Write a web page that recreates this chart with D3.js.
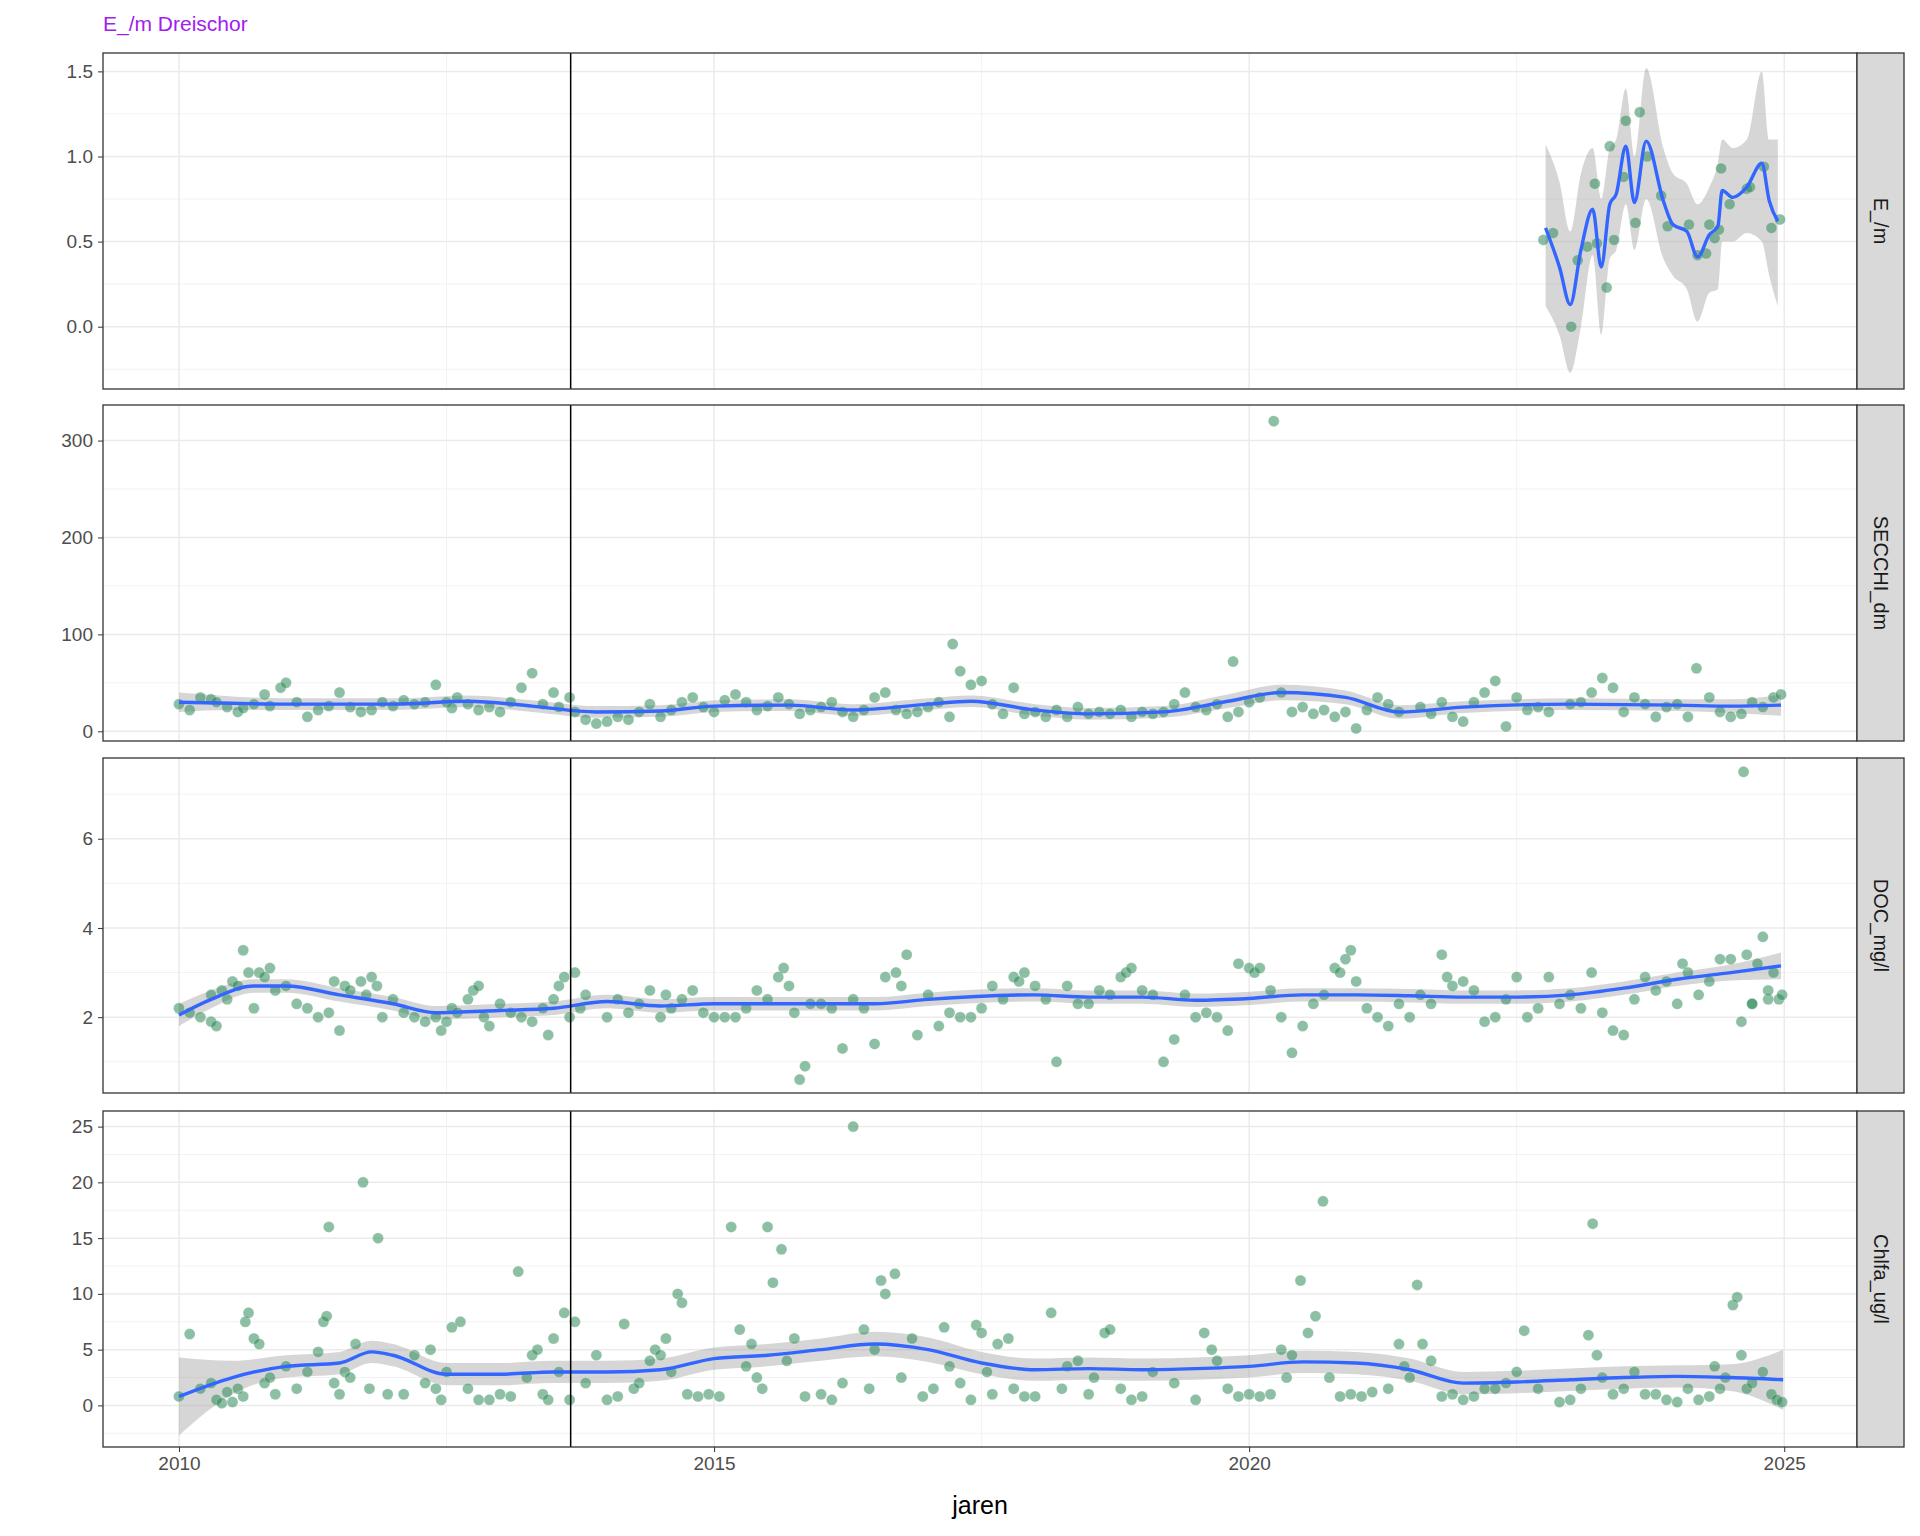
<!DOCTYPE html>
<html><head><meta charset="utf-8">
<script src="https://cdn.jsdelivr.net/npm/d3@7"></script>
<style>body{margin:0;background:#fff}text{font-family:Arial,"Liberation Sans",sans-serif}</style>
</head><body><svg id="c" width="1920" height="1536"></svg>
<script>
const titleText = "E_/m Dreischor";
const panelNames = ["E_/m","SECCHI_dm","DOC_mg/l","Chlfa_ug/l"];
const xTicks = [2010,2015,2020,2025];
const yTicksE = [0,0.5,1.0,1.5];
const yTicksS = [0,100,200,300];
const yTicksD = [2,4,6];
const yTicksC = [0,5,10,15,20,25];
const refYear = 2013.66;

const ptsE = [[2022.75,0.51],[2022.84,0.55],[2023.01,0.0],[2023.07,0.39],[2023.16,0.47],[2023.23,0.84],[2023.25,0.49],[2023.34,0.23],[2023.37,1.06],[2023.41,0.51],[2023.50,0.88],[2023.52,1.21],[2023.61,0.61],[2023.65,1.26],[2023.72,1.0],[2023.85,0.77],[2023.91,0.59],[2024.11,0.60],[2024.19,0.42],[2024.27,0.43],[2024.30,0.60],[2024.35,0.52],[2024.39,0.57],[2024.41,0.93],[2024.49,0.72],[2024.65,0.81],[2024.68,0.82],[2024.81,0.94],[2024.88,0.58],[2024.96,0.63]];
const fitE = [[2022.77,0.58,1.07,0.12],[2022.9,0.35,0.85,-0.05],[2023.0,0.13,0.56,-0.27],[2023.1,0.45,0.9,0.0],[2023.21,0.69,1.05,0.42],[2023.29,0.35,0.75,-0.05],[2023.37,0.72,1.05,0.4],[2023.43,0.78,1.1,0.45],[2023.52,1.06,1.4,0.72],[2023.60,0.73,1.0,0.45],[2023.71,1.09,1.52,0.75],[2023.87,0.74,1.05,0.4],[2023.96,0.60,0.9,0.3],[2024.09,0.56,0.84,0.22],[2024.19,0.41,0.72,0.03],[2024.30,0.54,0.82,0.2],[2024.38,0.59,0.96,0.22],[2024.42,0.80,1.1,0.5],[2024.52,0.76,1.05,0.5],[2024.65,0.82,1.1,0.55],[2024.79,0.96,1.5,0.5],[2024.86,0.74,1.1,0.3],[2024.94,0.62,1.1,0.12]];

const ptsS = [[2010.0,28],[2010.1,22],[2010.2,35],[2010.3,33],[2010.35,30],[2010.45,25],[2010.55,20],[2010.6,24],[2010.7,28],[2010.8,38],[2010.85,26],[2010.95,45],[2011.0,50],[2011.1,30],[2011.2,15],[2011.3,22],[2011.4,26],[2011.5,40],[2011.6,25],[2011.7,20],[2011.8,22],[2011.9,30],[2012.0,26],[2012.1,32],[2012.2,28],[2012.3,30],[2012.4,48],[2012.5,30],[2012.55,24],[2012.6,35],[2012.7,28],[2012.8,22],[2012.9,25],[2013.0,20],[2013.1,30],[2013.2,45],[2013.3,60],[2013.4,28],[2013.5,40],[2013.55,25],[2013.65,35],[2013.7,20],[2013.8,12],[2013.9,8],[2014.0,10],[2014.1,15],[2014.2,12],[2014.3,20],[2014.4,28],[2014.5,15],[2014.6,22],[2014.7,30],[2014.8,35],[2014.9,25],[2015.0,20],[2015.1,32],[2015.2,38],[2015.3,30],[2015.4,22],[2015.5,26],[2015.6,35],[2015.7,28],[2015.8,18],[2015.9,22],[2016.0,25],[2016.1,30],[2016.2,20],[2016.3,15],[2016.4,22],[2016.5,35],[2016.6,40],[2016.7,22],[2016.8,18],[2016.9,20],[2017.0,25],[2017.1,30],[2017.2,15],[2017.3,62],[2017.4,48],[2017.5,52],[2017.6,28],[2017.7,18],[2017.23,90],[2017.8,45],[2017.9,18],[2018.0,20],[2018.1,15],[2018.2,22],[2018.3,15],[2018.4,25],[2018.5,18],[2018.6,20],[2018.7,18],[2018.8,22],[2018.9,15],[2019.0,20],[2019.1,18],[2019.2,20],[2019.3,28],[2019.4,40],[2019.5,25],[2019.6,22],[2019.7,28],[2019.8,15],[2019.85,72],[2019.9,20],[2020.0,30],[2020.1,35],[2020.23,320],[2020.3,40],[2020.4,20],[2020.5,25],[2020.6,18],[2020.7,22],[2020.8,15],[2020.9,20],[2021.0,3],[2021.1,22],[2021.2,35],[2021.3,28],[2021.4,20],[2021.6,25],[2021.7,18],[2021.8,30],[2021.9,15],[2022.0,10],[2022.1,30],[2022.2,40],[2022.3,52],[2022.4,5],[2022.5,35],[2022.6,22],[2022.7,25],[2022.8,20],[2023.0,28],[2023.1,30],[2023.2,40],[2023.3,55],[2023.4,45],[2023.5,20],[2023.6,35],[2023.7,28],[2023.8,15],[2023.9,25],[2024.0,28],[2024.1,15],[2024.18,65],[2024.3,35],[2024.4,20],[2024.5,15],[2024.6,18],[2024.7,30],[2024.8,25],[2024.9,35],[2024.97,38]];
const fitS = [[2010,30,40,20],[2010.5,29,36,22],[2011,28,34,22],[2012,28,34,22],[2012.7,31,37,25],[2013.3,26,32,20],[2013.9,20,26,14],[2014.5,21,27,15],[2015,26,32,20],[2015.7,27,33,21],[2016.3,22,28,16],[2017,28,34,22],[2017.4,31,37,25],[2018,22,28,16],[2018.5,18,24,12],[2019.2,20,26,14],[2019.8,31,38,24],[2020.3,40,48,32],[2020.9,35,42,28],[2021.4,20,27,13],[2022,25,31,19],[2023,28,34,22],[2024,27,33,21],[2024.5,26,33,19],[2024.97,27,38,16]];

const ptsD = [[2010.0,2.2],[2010.1,2.1],[2010.2,2.0],[2010.3,1.9],[2010.35,1.8],[2010.3,2.5],[2010.4,2.6],[2010.45,2.4],[2010.5,2.8],[2010.55,2.7],[2010.6,3.5],[2010.65,3.0],[2010.7,2.2],[2010.75,3.0],[2010.8,2.9],[2010.85,3.1],[2010.9,2.6],[2011.0,2.7],[2011.1,2.3],[2011.2,2.2],[2011.3,2.0],[2011.4,2.1],[2011.45,2.8],[2011.5,1.7],[2011.55,2.7],[2011.6,2.6],[2011.7,2.8],[2011.75,2.5],[2011.8,2.9],[2011.85,2.7],[2011.9,2.0],[2012.0,2.4],[2012.1,2.1],[2012.2,2.0],[2012.3,1.9],[2012.4,2.0],[2012.45,1.7],[2012.5,1.9],[2012.55,2.2],[2012.6,2.1],[2012.7,2.4],[2012.75,2.6],[2012.8,2.7],[2012.85,2.0],[2012.9,1.8],[2013.0,2.3],[2013.1,2.1],[2013.2,2.0],[2013.3,1.9],[2013.4,2.2],[2013.45,1.6],[2013.5,2.4],[2013.55,2.7],[2013.6,2.9],[2013.65,2.0],[2013.7,3.0],[2013.75,2.2],[2013.8,2.5],[2014.0,2.0],[2014.1,2.4],[2014.2,2.1],[2014.3,2.3],[2014.4,2.6],[2014.5,2.0],[2014.55,2.5],[2014.6,2.2],[2014.7,2.4],[2014.8,2.6],[2014.9,2.1],[2015.0,2.0],[2015.1,2.0],[2015.2,2.0],[2015.3,2.2],[2015.4,2.6],[2015.5,2.4],[2015.6,2.9],[2015.65,3.1],[2015.7,2.7],[2015.75,2.1],[2015.8,0.6],[2015.85,0.9],[2015.9,2.3],[2016.0,2.3],[2016.1,2.2],[2016.2,1.3],[2016.3,2.4],[2016.4,2.2],[2016.5,1.4],[2016.6,2.9],[2016.7,3.0],[2016.75,2.7],[2016.8,3.4],[2016.9,1.6],[2017.0,2.5],[2017.1,1.8],[2017.2,2.1],[2017.3,2.0],[2017.4,2.0],[2017.5,2.2],[2017.6,2.7],[2017.7,2.4],[2017.8,2.9],[2017.85,2.8],[2017.9,3.0],[2018.0,2.7],[2018.1,2.4],[2018.2,1.0],[2018.3,2.7],[2018.4,2.3],[2018.5,2.3],[2018.6,2.6],[2018.7,2.5],[2018.8,2.9],[2018.85,3.0],[2018.9,3.1],[2019.0,2.6],[2019.1,2.5],[2019.2,1.0],[2019.3,1.5],[2019.4,2.5],[2019.5,2.0],[2019.6,2.1],[2019.7,2.0],[2019.8,1.7],[2019.9,3.2],[2020.0,3.1],[2020.05,3.0],[2020.1,3.1],[2020.2,2.6],[2020.3,2.0],[2020.4,1.2],[2020.5,1.8],[2020.6,2.3],[2020.7,2.5],[2020.8,3.1],[2020.85,3.0],[2020.9,3.3],[2020.95,3.5],[2021.0,2.8],[2021.1,2.2],[2021.2,2.0],[2021.3,1.8],[2021.4,2.3],[2021.5,2.0],[2021.6,2.5],[2021.7,2.3],[2021.8,3.4],[2021.85,2.9],[2021.9,2.7],[2022.0,2.8],[2022.1,2.6],[2022.2,1.9],[2022.3,2.0],[2022.4,2.4],[2022.5,2.9],[2022.6,2.0],[2022.7,2.2],[2022.8,2.9],[2022.9,2.3],[2023.0,2.5],[2023.1,2.2],[2023.2,3.0],[2023.3,2.1],[2023.4,1.7],[2023.5,1.6],[2023.6,2.4],[2023.7,2.9],[2023.8,2.6],[2023.9,2.8],[2024.0,2.3],[2024.05,3.2],[2024.1,3.0],[2024.2,2.5],[2024.3,2.8],[2024.4,3.3],[2024.5,3.3],[2024.6,1.9],[2024.7,2.3],[2024.8,3.8],[2024.85,2.4],[2024.9,3.0],[2024.62,7.5],[2024.65,3.4],[2024.7,2.3],[2024.75,3.2],[2024.85,2.6],[2024.95,2.4],[2024.98,2.5]];
const fitD = [[2010,2.05,2.3,1.8],[2010.3,2.4,2.6,2.2],[2010.7,2.7,2.85,2.55],[2011,2.7,2.85,2.55],[2011.5,2.5,2.65,2.35],[2012,2.3,2.45,2.15],[2012.4,2.1,2.25,1.95],[2013,2.15,2.3,2.0],[2013.5,2.2,2.35,2.05],[2014,2.35,2.5,2.2],[2014.5,2.25,2.4,2.1],[2015,2.3,2.45,2.15],[2016,2.3,2.45,2.15],[2016.5,2.3,2.45,2.15],[2017,2.4,2.55,2.25],[2018,2.5,2.65,2.35],[2018.5,2.45,2.6,2.3],[2019,2.45,2.6,2.3],[2019.5,2.38,2.53,2.23],[2020,2.42,2.57,2.27],[2020.5,2.5,2.65,2.35],[2021,2.5,2.65,2.35],[2021.5,2.48,2.63,2.33],[2022,2.45,2.6,2.3],[2022.5,2.45,2.6,2.3],[2023,2.5,2.65,2.35],[2023.5,2.65,2.8,2.5],[2024,2.85,3.0,2.7],[2024.5,3.0,3.18,2.82],[2024.97,3.15,3.45,2.85]];

const ptsC = [[2010.0,0.8],[2010.1,6.4],[2010.2,1.5],[2010.3,2.0],[2010.35,0.5],[2010.4,0.2],[2010.45,1.2],[2010.5,0.3],[2010.55,1.5],[2010.6,0.8],[2010.62,7.5],[2010.65,8.3],[2010.7,6.0],[2010.75,5.5],[2010.8,2.0],[2010.85,2.5],[2010.9,1.0],[2011.0,3.5],[2011.1,1.5],[2011.2,3.0],[2011.3,4.8],[2011.35,7.5],[2011.38,8.0],[2011.4,16.0],[2011.45,2.0],[2011.5,1.0],[2011.55,3.0],[2011.6,2.5],[2011.65,5.5],[2011.72,20.0],[2011.78,1.5],[2011.86,15.0],[2011.95,1.0],[2012.1,1.0],[2012.2,4.5],[2012.3,2.0],[2012.35,5.0],[2012.4,1.5],[2012.45,0.5],[2012.5,3.0],[2012.55,7.0],[2012.63,7.5],[2012.7,1.5],[2012.8,0.5],[2012.9,0.5],[2013.0,1.0],[2013.1,0.8],[2013.17,12.0],[2013.25,2.5],[2013.3,4.5],[2013.35,5.0],[2013.4,1.0],[2013.45,0.5],[2013.5,6.0],[2013.55,3.0],[2013.6,8.3],[2013.65,0.5],[2013.7,7.5],[2013.8,2.0],[2013.9,4.5],[2014.0,0.5],[2014.1,0.8],[2014.16,7.3],[2014.25,1.5],[2014.3,2.0],[2014.4,4.0],[2014.45,5.0],[2014.5,4.5],[2014.55,6.0],[2014.6,3.0],[2014.66,10.0],[2014.7,9.2],[2014.75,1.0],[2014.85,0.8],[2014.95,1.0],[2015.05,0.8],[2015.16,16.0],[2015.24,6.8],[2015.3,3.5],[2015.35,5.5],[2015.4,2.5],[2015.45,1.5],[2015.5,16.0],[2015.55,11.0],[2015.63,14.0],[2015.68,4.0],[2015.75,6.0],[2015.85,0.8],[2016.0,1.0],[2016.1,0.5],[2016.2,2.0],[2016.3,25.0],[2016.4,6.8],[2016.45,1.5],[2016.5,5.0],[2016.56,11.2],[2016.6,10.0],[2016.69,11.8],[2016.75,2.5],[2016.85,6.0],[2016.95,0.8],[2017.05,1.5],[2017.15,7.0],[2017.2,3.5],[2017.3,2.0],[2017.4,0.5],[2017.45,7.2],[2017.5,6.5],[2017.55,3.0],[2017.6,1.0],[2017.65,5.5],[2017.75,6.0],[2017.8,1.5],[2017.9,0.8],[2018.0,0.8],[2018.15,8.3],[2018.25,1.5],[2018.3,3.5],[2018.4,4.0],[2018.5,1.0],[2018.55,2.5],[2018.65,6.5],[2018.7,6.8],[2018.8,1.5],[2018.9,0.5],[2019.0,0.8],[2019.1,3.0],[2019.3,2.0],[2019.5,0.5],[2019.58,6.5],[2019.65,5.0],[2019.7,4.0],[2019.8,1.5],[2019.9,0.8],[2020.0,1.0],[2020.1,0.8],[2020.2,1.0],[2020.3,5.0],[2020.35,2.5],[2020.4,4.5],[2020.48,11.2],[2020.55,6.5],[2020.62,8.0],[2020.69,18.3],[2020.75,2.5],[2020.85,0.8],[2020.95,1.0],[2021.05,0.8],[2021.15,1.2],[2021.3,1.5],[2021.4,5.5],[2021.45,3.5],[2021.5,2.5],[2021.57,10.8],[2021.62,5.5],[2021.7,4.0],[2021.8,0.8],[2021.9,1.0],[2022.0,0.5],[2022.1,0.8],[2022.2,1.5],[2022.3,1.5],[2022.4,2.0],[2022.5,3.0],[2022.57,6.7],[2022.7,1.5],[2022.9,0.3],[2023.0,0.5],[2023.1,1.5],[2023.17,6.3],[2023.21,16.3],[2023.25,4.5],[2023.3,2.5],[2023.4,1.0],[2023.5,1.5],[2023.6,3.0],[2023.7,1.0],[2023.8,1.0],[2023.9,0.5],[2024.0,0.3],[2024.1,1.5],[2024.2,0.5],[2024.3,0.8],[2024.35,3.5],[2024.4,1.5],[2024.45,2.5],[2024.52,9.0],[2024.56,9.7],[2024.6,4.5],[2024.65,1.5],[2024.7,2.0],[2024.8,3.0],[2024.88,1.0],[2024.93,0.5],[2024.98,0.3]];
const fitC = [[2010,0.8,4.3,-2.7],[2010.5,2.5,4.0,1.0],[2011,3.5,4.5,2.5],[2011.5,3.8,4.8,2.8],[2011.8,4.8,5.8,3.8],[2012,4.5,5.5,3.5],[2012.5,2.8,3.8,1.8],[2013,2.8,3.8,1.8],[2013.5,3.0,4.0,2.0],[2014,3.0,4.0,2.0],[2014.5,3.2,4.2,2.2],[2015,4.2,5.2,3.2],[2015.5,4.5,5.5,3.5],[2016,5.0,6.0,4.0],[2016.5,5.5,6.6,4.4],[2017,5.0,6.1,3.9],[2017.5,3.8,4.8,2.8],[2018,3.2,4.2,2.2],[2018.5,3.3,4.3,2.3],[2019,3.2,4.2,2.2],[2019.5,3.3,4.3,2.3],[2020,3.5,4.5,2.5],[2020.5,3.9,4.9,2.9],[2021,3.8,4.8,2.8],[2021.5,3.2,4.2,2.2],[2022,2.0,3.0,1.0],[2022.5,2.1,3.1,1.1],[2023,2.3,3.3,1.3],[2023.5,2.5,3.5,1.5],[2024,2.6,3.6,1.6],[2024.5,2.5,3.7,1.3],[2024.99,2.3,5.0,-0.4]];

const panels = [
 {name:panelNames[0],pts:ptsE,fit:fitE,ticks:yTicksE,dom:[-0.366,1.608],fmt:d3.format(".1f"),y0:53,y1:389},
 {name:panelNames[1],pts:ptsS,fit:fitS,ticks:yTicksS,dom:[-10,336.7],fmt:d3.format("d"),y0:405,y1:741},
 {name:panelNames[2],pts:ptsD,fit:fitD,ticks:yTicksD,dom:[0.30,7.81],fmt:d3.format("d"),y0:758,y1:1093},
 {name:panelNames[3],pts:ptsC,fit:fitC,ticks:yTicksC,dom:[-3.73,26.4],fmt:d3.format("d"),y0:1111,y1:1447}
];
const L=103,R=1857,SW=47;
const svg=d3.select("#c");
const x=d3.scaleLinear().domain([2009.29,2025.68]).range([L,R]);
svg.append("text").attr("x",103).attr("y",31).attr("fill","#A020F0").attr("font-size",21).text(titleText);
panels.forEach((p,i)=>{
  const y=d3.scaleLinear().domain(p.dom).range([p.y1,p.y0]);
  const g=svg.append("g");
  const clipId="clip"+i;
  svg.append("clipPath").attr("id",clipId).append("rect").attr("x",L).attr("y",p.y0).attr("width",R-L).attr("height",p.y1-p.y0);
  const minorY=[];for(let k=0;k<p.ticks.length+1;k++){const st=p.ticks[1]-p.ticks[0];minorY.push(p.ticks[0]+st*(k-0.5));}
  g.selectAll(".my").data(minorY.filter(v=>v>p.dom[0]&&v<p.dom[1])).join("line").attr("x1",L).attr("x2",R).attr("y1",d=>y(d)).attr("y2",d=>y(d)).attr("stroke","#F2F2F2").attr("stroke-width",1);
  g.selectAll(".mx").data([2012.5,2017.5,2022.5]).join("line").attr("y1",p.y0).attr("y2",p.y1).attr("x1",d=>x(d)).attr("x2",d=>x(d)).attr("stroke","#F2F2F2");
  g.selectAll(".gy").data(p.ticks).join("line").attr("x1",L).attr("x2",R).attr("y1",d=>y(d)).attr("y2",d=>y(d)).attr("stroke","#EBEBEB").attr("stroke-width",1.5);
  g.selectAll(".gx").data(xTicks).join("line").attr("y1",p.y0).attr("y2",p.y1).attr("x1",d=>x(d)).attr("x2",d=>x(d)).attr("stroke","#EBEBEB").attr("stroke-width",1.5);
  const cg=g.append("g").attr("clip-path",`url(#${clipId})`);
  cg.append("path").datum(p.fit).attr("d",d3.area().x(d=>x(d[0])).y0(d=>y(d[3])).y1(d=>y(d[2])).curve(d3.curveMonotoneX)).attr("fill","#999").attr("opacity",0.4);
  cg.selectAll("circle").data(p.pts).join("circle").attr("cx",d=>x(d[0])).attr("cy",d=>y(d[1])).attr("r",5.5).attr("fill","#2E8B57").attr("fill-opacity",0.55).attr("stroke","#fff").attr("stroke-opacity",0.3).attr("stroke-width",0.8);
  cg.append("path").datum(p.fit).attr("d",d3.line().x(d=>x(d[0])).y(d=>y(d[1])).curve(d3.curveMonotoneX)).attr("fill","none").attr("stroke","#3366FF").attr("stroke-width",3.4);
  g.append("line").attr("x1",x(refYear)).attr("x2",x(refYear)).attr("y1",p.y0).attr("y2",p.y1).attr("stroke","#000").attr("stroke-width",1.5);
  g.append("rect").attr("x",L).attr("y",p.y0).attr("width",R-L).attr("height",p.y1-p.y0).attr("fill","none").attr("stroke","#333").attr("stroke-width",1.3);
  const ax=g.append("g").attr("transform",`translate(${L},0)`).call(d3.axisLeft(y).tickValues(p.ticks).tickFormat(p.fmt).tickSize(5).tickPadding(5));
  ax.select(".domain").remove();ax.selectAll("line").attr("stroke","#333");
  ax.selectAll("text").attr("font-size",19).attr("fill","#4D4D4D").attr("font-family","Arial,Liberation Sans,sans-serif");
  g.append("rect").attr("x",R).attr("y",p.y0).attr("width",SW).attr("height",p.y1-p.y0).attr("fill","#D9D9D9").attr("stroke","#333").attr("stroke-width",1.3);
  g.append("text").attr("transform",`translate(${R+SW/2},${(p.y0+p.y1)/2}) rotate(90)`).attr("text-anchor","middle").attr("dy","0.35em").attr("font-size",20).attr("fill","#1A1A1A").text(p.name);
  if(i===3){
    const bx=g.append("g").attr("transform",`translate(0,${p.y1})`).call(d3.axisBottom(x).tickValues(xTicks).tickFormat(d3.format("d")).tickSize(5).tickPadding(5));
    bx.select(".domain").remove();bx.selectAll("line").attr("stroke","#333");
    bx.selectAll("text").attr("font-size",19).attr("fill","#4D4D4D").attr("font-family","Arial,Liberation Sans,sans-serif");
  }
});
svg.append("text").attr("x",(L+R)/2).attr("y",1514).attr("text-anchor","middle").attr("font-size",25).attr("fill","#000").text("jaren");
</script></body></html>
